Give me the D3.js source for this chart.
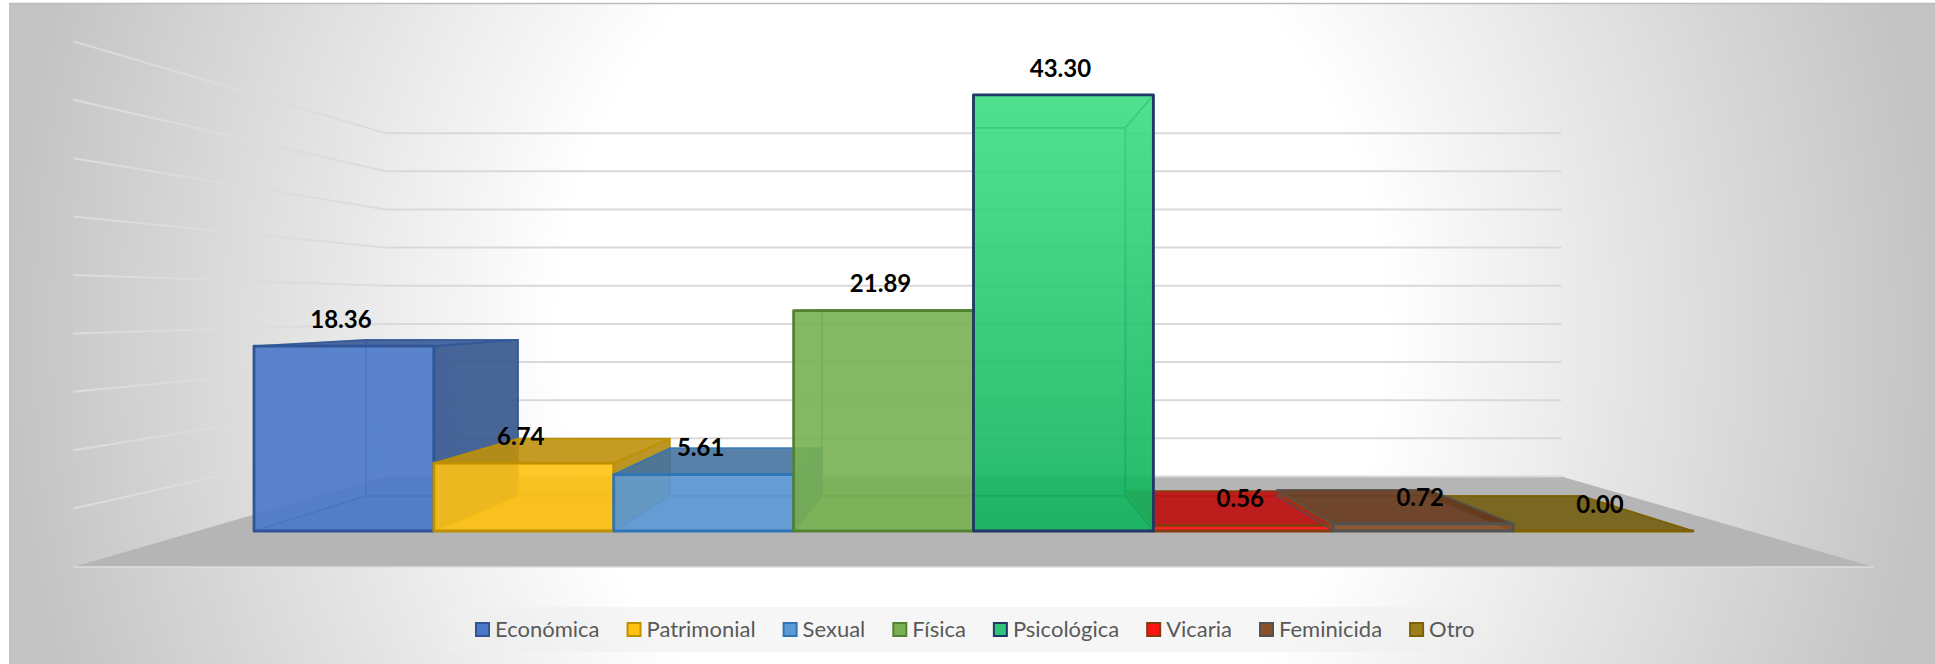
<!DOCTYPE html>
<html>
<head>
<meta charset="utf-8">
<script src="https://d3js.org/d3.v7.min.js"></script>
<style>
body { margin: 0; background: #fff; }
text { font-family: Lato, "Open Sans", sans-serif; }
</style>
</head>
<body>
<script>
// values
var categories = ["Económica", "Patrimonial", "Sexual", "Física", "Psicológica", "Vicaria", "Feminicida", "Otro"];
var values = [18.36, 6.74, 5.61, 21.89, 43.30, 0.56, 0.72, 0.00];
var labels = ["18.36", "6.74", "5.61", "21.89", "43.30", "0.56", "0.72", "0.00"];
var fillColors = ["#4a78c8", "#ffc212", "#5c9ad6", "#78b052", "#2cc477", "#ff1414", "#8a5028", "#9c7f1c"];
var edgeColors = ["#2f5597", "#bf9000", "#2e75b6", "#548235", "#203864", "#843c0c", "#525252", "#7f6000"];
var gridTicks = [0, 5, 10, 15, 20, 25, 30, 35, 40, 45];
// the chart paints Psicológica last, it covers the corner of Vicaria
var drawOrder = ["Económica", "Patrimonial", "Sexual", "Física", "Otro", "Vicaria", "Feminicida", "Psicológica"];

var width = 1935, height = 664;

var svg = d3.select("body").append("svg")
    .attr("width", width)
    .attr("height", height)
    .style("display", "block");

var defs = svg.append("defs");

// chart area background, white in the middle and gray at the sides
var bg = defs.append("radialGradient")
    .attr("id", "bg")
    .attr("gradientUnits", "userSpaceOnUse")
    .attr("cx", 0).attr("cy", 0).attr("r", 1)
    .attr("gradientTransform", "translate(972,332) scale(960,1050)");
bg.append("stop").attr("offset", "43%").attr("stop-color", "#ffffff");
bg.append("stop").attr("offset", "100%").attr("stop-color", "#c4c4c4");

svg.append("rect").attr("x", 9).attr("y", 3.5).attr("width", width - 9).attr("height", height - 3.5).attr("fill", "url(#bg)");
svg.append("line").attr("x1", 9).attr("x2", width).attr("y1", 3.5).attr("y2", 3.5).attr("stroke", "#bdbdbd").attr("stroke-width", 1.5);

// scales give positions on the front plane of the bars
var x = d3.scaleBand().domain(categories).range([254, 1693]);
var y = d3.scaleLinear().domain([0, 50]).range([531, 27.5]);

// the 3d box: everything is scaled toward one vanishing point
var vanishX = 973.5, vanishY = 306;
var barBack = 0.844, wallBack = 0.7575, floorFront = 1.16;
var floorHalf = 776;

function project(px, py, s) {
    return [vanishX + (px - vanishX) * s, vanishY + (py - vanishY) * s];
}

var line = d3.line();
function poly(points) { return line(points) + "Z"; }

// floor
svg.append("path")
    .attr("d", poly([
        project(vanishX - floorHalf, y(0), floorFront),
        project(vanishX + floorHalf, y(0), floorFront),
        project(vanishX + floorHalf, y(0), wallBack),
        project(vanishX - floorHalf, y(0), wallBack)
    ]))
    .attr("fill", "#b5b5b5");

svg.append("path")
    .attr("d", line([project(vanishX - floorHalf, y(0), floorFront), project(vanishX + floorHalf, y(0), floorFront)]))
    .attr("stroke", "#dcdcdc").attr("stroke-width", 1.5).attr("fill", "none");

// gridlines on the back wall and the left wall
svg.selectAll("path.back").data(gridTicks).enter().append("path")
    .attr("class", "back")
    .attr("d", function(d) { return line([project(vanishX - floorHalf, y(d), wallBack), project(vanishX + floorHalf, y(d), wallBack)]); })
    .attr("stroke", "#d9d9d9").attr("stroke-width", 2).attr("fill", "none");

svg.selectAll("path.side").data(gridTicks.slice(1)).enter().append("path")
    .attr("class", "side")
    .attr("d", function(d) { return line([project(vanishX - floorHalf, y(d), wallBack), project(vanishX - floorHalf, y(d), floorFront)]); })
    .attr("stroke", "#dcdcdc").attr("stroke-width", 2).attr("fill", "none");

// Psicológica has a vertical gradient
var psi = defs.append("linearGradient")
    .attr("id", "psi")
    .attr("gradientUnits", "userSpaceOnUse")
    .attr("x1", 0).attr("x2", 0)
    .attr("y1", y(values[4])).attr("y2", y(0));
psi.append("stop").attr("offset", "0%").attr("stop-color", "#40de85");
psi.append("stop").attr("offset", "100%").attr("stop-color", "#10b25c");

// one bar = six translucent faces, painted back to front
drawOrder.forEach(function(cat) {
    var i = categories.indexOf(cat);
    var x0 = x(cat), x1 = x0 + x.bandwidth();
    var top = y(values[i]), bottom = y(0);
    var c = fillColors[i];
    var isPsi = cat == "Psicológica";
    var fill = isPsi ? "url(#psi)" : c;
    var dark = d3.color(c).darker(1).formatHex();
    var darkTop = d3.color(c).darker(0.85).formatHex();

    var fbl = project(x0, bottom, 1), fbr = project(x1, bottom, 1),
        ftl = project(x0, top, 1), ftr = project(x1, top, 1),
        bbl = project(x0, bottom, barBack), bbr = project(x1, bottom, barBack),
        btl = project(x0, top, barBack), btr = project(x1, top, barBack);

    var faces = [
        { pts: [bbl, bbr, btr, btl], fill: fill, op: 0.22, sw: 1.2 },
        { pts: [fbl, fbr, bbr, bbl], fill: fill, op: 0.3, sw: 1.2 },
        { pts: [fbl, ftl, btl, bbl], fill: fill, op: 0.2, sw: 1.2 },
        { pts: [fbr, ftr, btr, bbr], fill: isPsi ? fill : dark, op: isPsi ? 0.3 : 0.88, sw: 1.8 },
        { pts: [ftl, ftr, btr, btl], fill: isPsi ? fill : darkTop, op: isPsi ? 0.3 : 0.88, sw: 1.8 },
        { pts: [fbl, fbr, ftr, ftl], fill: fill, op: 0.88, sw: 2.8 }
    ];

    svg.append("g").selectAll("path").data(faces).enter().append("path")
        .attr("d", function(f) { return poly(f.pts); })
        .attr("fill", function(f) { return f.fill; })
        .attr("fill-opacity", function(f) { return f.op; })
        .attr("stroke", edgeColors[i])
        .attr("stroke-opacity", function(f) { return f.sw > 2 ? 1 : 0.7; })
        .attr("stroke-width", function(f) { return f.sw; })
        .attr("stroke-linejoin", "round");
});

// data labels
svg.selectAll("text.label").data(categories).enter().append("text")
    .attr("class", "label")
    .attr("x", function(d) { return x(d) + x.bandwidth() / 2 - 3; })
    .attr("y", function(d, i) { return y(values[i]) - 26.5; })
    .attr("dy", "0.35em")
    .attr("text-anchor", "middle")
    .attr("font-size", 24)
    .attr("font-weight", 700)
    .attr("fill", "#000")
    .text(function(d, i) { return labels[i]; });

// legend
svg.append("rect").attr("x", 447).attr("y", 607).attr("width", 1047).attr("height", 45)
    .attr("fill", "#efefef").attr("fill-opacity", 0.55);

var legendX = 475;
categories.forEach(function(cat, i) {
    svg.append("rect")
        .attr("x", legendX + 1).attr("y", 623)
        .attr("width", 13).attr("height", 13)
        .attr("fill", fillColors[i])
        .attr("stroke", edgeColors[i])
        .attr("stroke-width", 2);
    var t = svg.append("text")
        .attr("x", legendX + 20).attr("y", 636.5)
        .attr("font-size", 22)
        .attr("fill", "#595959")
        .text(cat);
    legendX += 20 + t.node().getComputedTextLength() + 27;
});
</script>
</body>
</html>
